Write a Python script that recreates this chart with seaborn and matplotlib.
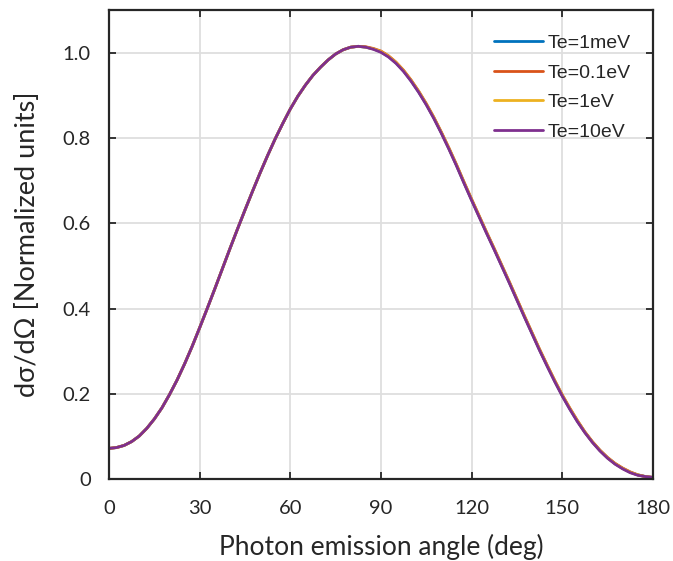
import matplotlib
matplotlib.use("Agg")
import matplotlib.pyplot as plt
import pandas as pd
import seaborn as sns

# Photon emission angle (deg), 2.5 deg steps from 0 to 180
angle = [0.0, 2.5, 5.0, 7.5, 10.0, 12.5, 15.0, 17.5, 20.0, 22.5,
         25.0, 27.5, 30.0, 32.5, 35.0, 37.5, 40.0, 42.5, 45.0, 47.5,
         50.0, 52.5, 55.0, 57.5, 60.0, 62.5, 65.0, 67.5, 70.0, 72.5,
         75.0, 77.5, 80.0, 82.5, 85.0, 87.5, 90.0, 92.5, 95.0, 97.5,
         100.0, 102.5, 105.0, 107.5, 110.0, 112.5, 115.0, 117.5, 120.0, 122.5,
         125.0, 127.5, 130.0, 132.5, 135.0, 137.5, 140.0, 142.5, 145.0, 147.5,
         150.0, 152.5, 155.0, 157.5, 160.0, 162.5, 165.0, 167.5, 170.0, 172.5,
         175.0, 177.5, 180.0]

# Normalized differential cross section, one list per electron temperature
te_1mev = [0.072, 0.074, 0.079, 0.088, 0.101, 0.119, 0.141, 0.167, 0.198, 0.232,
           0.270, 0.311, 0.355, 0.400, 0.446, 0.493, 0.540, 0.586, 0.631, 0.675,
           0.718, 0.759, 0.798, 0.834, 0.868, 0.898, 0.924, 0.947, 0.966, 0.983,
           0.997, 1.007, 1.013, 1.015, 1.013, 1.009, 1.002, 0.991, 0.976, 0.957,
           0.934, 0.908, 0.879, 0.847, 0.812, 0.775, 0.736, 0.695, 0.655, 0.616,
           0.577, 0.539, 0.500, 0.461, 0.421, 0.381, 0.342, 0.303, 0.266, 0.230,
           0.196, 0.165, 0.136, 0.110, 0.087, 0.067, 0.050, 0.036, 0.025, 0.016,
           0.010, 0.006, 0.004]
te_01ev = [0.072, 0.074, 0.079, 0.088, 0.101, 0.119, 0.141, 0.167, 0.198, 0.232,
           0.270, 0.311, 0.355, 0.400, 0.446, 0.493, 0.540, 0.586, 0.631, 0.675,
           0.718, 0.759, 0.798, 0.834, 0.868, 0.898, 0.924, 0.947, 0.966, 0.983,
           0.997, 1.007, 1.013, 1.015, 1.014, 1.010, 1.004, 0.993, 0.978, 0.959,
           0.936, 0.910, 0.881, 0.849, 0.814, 0.777, 0.738, 0.697, 0.657, 0.618,
           0.579, 0.541, 0.502, 0.463, 0.423, 0.383, 0.344, 0.305, 0.268, 0.232,
           0.198, 0.167, 0.138, 0.111, 0.088, 0.068, 0.051, 0.037, 0.026, 0.017,
           0.010, 0.006, 0.004]
te_1ev = [0.072, 0.074, 0.079, 0.088, 0.101, 0.119, 0.141, 0.167, 0.198, 0.232,
          0.270, 0.311, 0.355, 0.400, 0.446, 0.493, 0.540, 0.586, 0.631, 0.675,
          0.718, 0.759, 0.798, 0.834, 0.868, 0.898, 0.924, 0.947, 0.966, 0.983,
          0.997, 1.007, 1.013, 1.015, 1.013, 1.009, 1.003, 0.992, 0.977, 0.958,
          0.935, 0.909, 0.880, 0.848, 0.813, 0.776, 0.737, 0.696, 0.656, 0.617,
          0.578, 0.540, 0.501, 0.462, 0.422, 0.382, 0.343, 0.304, 0.267, 0.231,
          0.197, 0.166, 0.137, 0.110, 0.087, 0.067, 0.050, 0.036, 0.025, 0.016,
          0.010, 0.006, 0.004]
te_10ev = [0.072, 0.074, 0.079, 0.088, 0.101, 0.119, 0.141, 0.167, 0.198, 0.232,
           0.270, 0.311, 0.355, 0.400, 0.446, 0.493, 0.540, 0.586, 0.631, 0.675,
           0.718, 0.759, 0.798, 0.834, 0.868, 0.898, 0.924, 0.947, 0.966, 0.983,
           0.997, 1.007, 1.013, 1.015, 1.013, 1.008, 1.001, 0.990, 0.975, 0.956,
           0.933, 0.907, 0.878, 0.846, 0.811, 0.774, 0.735, 0.694, 0.654, 0.615,
           0.576, 0.538, 0.499, 0.460, 0.420, 0.380, 0.341, 0.302, 0.265, 0.229,
           0.195, 0.164, 0.135, 0.109, 0.086, 0.066, 0.049, 0.035, 0.024, 0.015,
           0.009, 0.006, 0.004]

labels = ["Te=1meV", "Te=0.1eV", "Te=1eV", "Te=10eV"]
colors = ["#0072BD", "#D95319", "#EDB120", "#7E2F8E"]
xticks = [0, 30, 60, 90, 120, 150, 180]
yticks = [0, 0.2, 0.4, 0.6, 0.8, 1.0]
ytick_labels = ["0", "0.2", "0.4", "0.6", "0.8", "1.0"]

frames = []
for lab, vals in zip(labels, [te_1mev, te_01ev, te_1ev, te_10ev]):
    frames.append(pd.DataFrame({"angle": angle, "value": vals, "Te": lab}))
df = pd.concat(frames, ignore_index=True)

sns.set_theme(style="whitegrid")
plt.rcParams["font.family"] = ["Lato", "DejaVu Sans"]

fig = plt.figure(figsize=(6.73, 5.61), dpi=100)
ax = fig.add_axes([0.162, 0.146, 0.808, 0.836])

sns.lineplot(data=df, x="angle", y="value", hue="Te", palette=colors,
             hue_order=labels, linewidth=2.0, ax=ax, legend=True)

ax.set_xlim(0, 180)
ax.set_ylim(0, 1.1)
ax.set_xticks(xticks)
ax.set_yticks(yticks)
ax.set_yticklabels(ytick_labels)

ax.grid(True, color="#dedede", linewidth=1.3)
ax.set_facecolor("white")
for s in ax.spines.values():
    s.set_visible(True)
    s.set_color("#262626")
    s.set_linewidth(1.6)

ax.tick_params(axis="both", which="both", direction="in", length=5, width=1.3,
               color="#262626", top=True, right=True, bottom=True, left=True,
               labelsize=14.5, labelcolor="#262626")
ax.tick_params(axis="x", pad=15)
ax.tick_params(axis="y", pad=13)

ax.set_xlabel("Photon emission angle (deg)", fontsize=19, color="#262626", labelpad=12)
ax.set_ylabel("dσ/dΩ [Normalized units]", fontsize=19.5, color="#262626", labelpad=16)

leg = ax.legend(loc="upper left", bbox_to_anchor=(0.694, 0.965), frameon=False,
                prop={"family": "Liberation Sans", "size": 14},
                handlelength=2.5, handletextpad=0.26, labelspacing=0.62,
                borderaxespad=0.0)
for line in leg.get_lines():
    line.set_linewidth(2.0)

fig.savefig("out.png", dpi=100, facecolor="white")
